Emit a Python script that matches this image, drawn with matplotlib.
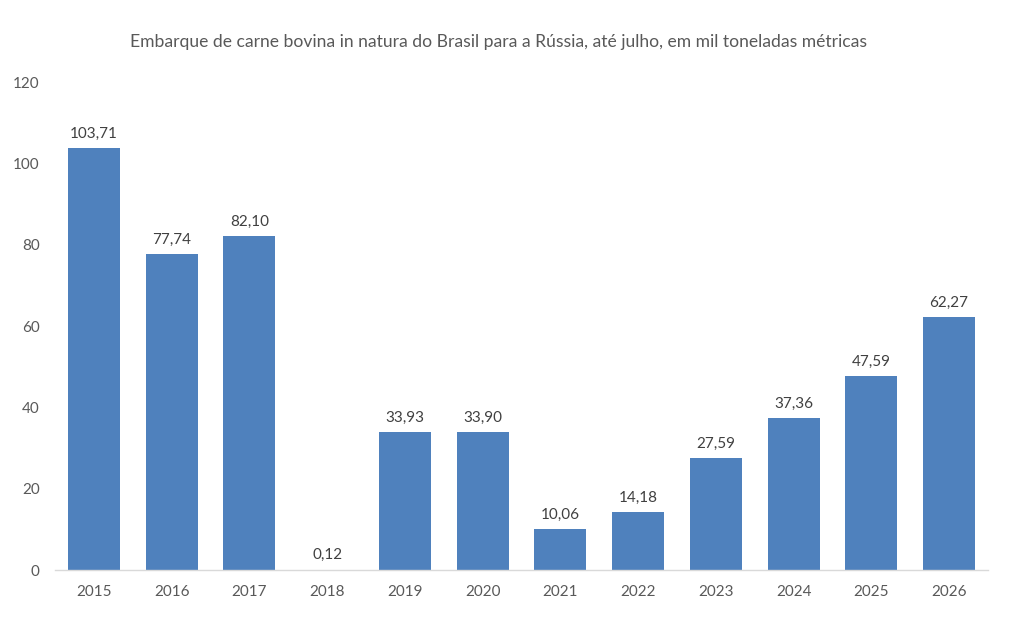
import matplotlib
matplotlib.use("Agg")
import matplotlib.pyplot as plt

years = ["2015", "2016", "2017", "2018", "2019", "2020", "2021", "2022", "2023", "2024", "2025", "2026"]
values = [103.71, 77.74, 82.10, 0.12, 33.93, 33.90, 10.06, 14.18, 27.59, 37.36, 47.59, 62.27]
yticks = [0, 20, 40, 60, 80, 100, 120]
title = "Embarque de carne bovina in natura do Brasil para a Rússia, até julho, em mil toneladas métricas"

plt.rcParams['font.family'] = ['Lato', 'DejaVu Sans']
txt = '#595959'

fig = plt.figure(figsize=(10.11, 6.29), dpi=100)
ax = fig.add_axes([55/1011, 59/629, (988-55)/1011, (570-82)/629])
x = list(range(len(years)))
bars = ax.bar(x, values, width=0.67, color='#4F81BD', zorder=2)
for xi, v in zip(x, values):
    ax.text(xi, v + 1.8, f"{v:.2f}".replace('.', ','), ha='center', va='bottom',
            fontsize=11, color='#404040')
ax.set_xlim(-0.5, len(years) - 0.5)
ax.set_ylim(0, 120)
ax.set_yticks(yticks)
ax.set_yticklabels([str(t) for t in yticks])
ax.set_xticks(x)
ax.set_xticklabels(years)
ax.tick_params(axis='both', length=0, labelsize=11, colors=txt)
ax.tick_params(axis='y', pad=11)
ax.tick_params(axis='x', pad=11)
for s in ['top', 'right', 'left']:
    ax.spines[s].set_visible(False)
ax.spines['bottom'].set_color('#D9D9D9')
ax.spines['bottom'].set_linewidth(1.0)
fig.text(499/1011, 1 - 42/629, title, ha='center', va='center', fontsize=12.6, color=txt)
fig.savefig("out.png", dpi=100)
